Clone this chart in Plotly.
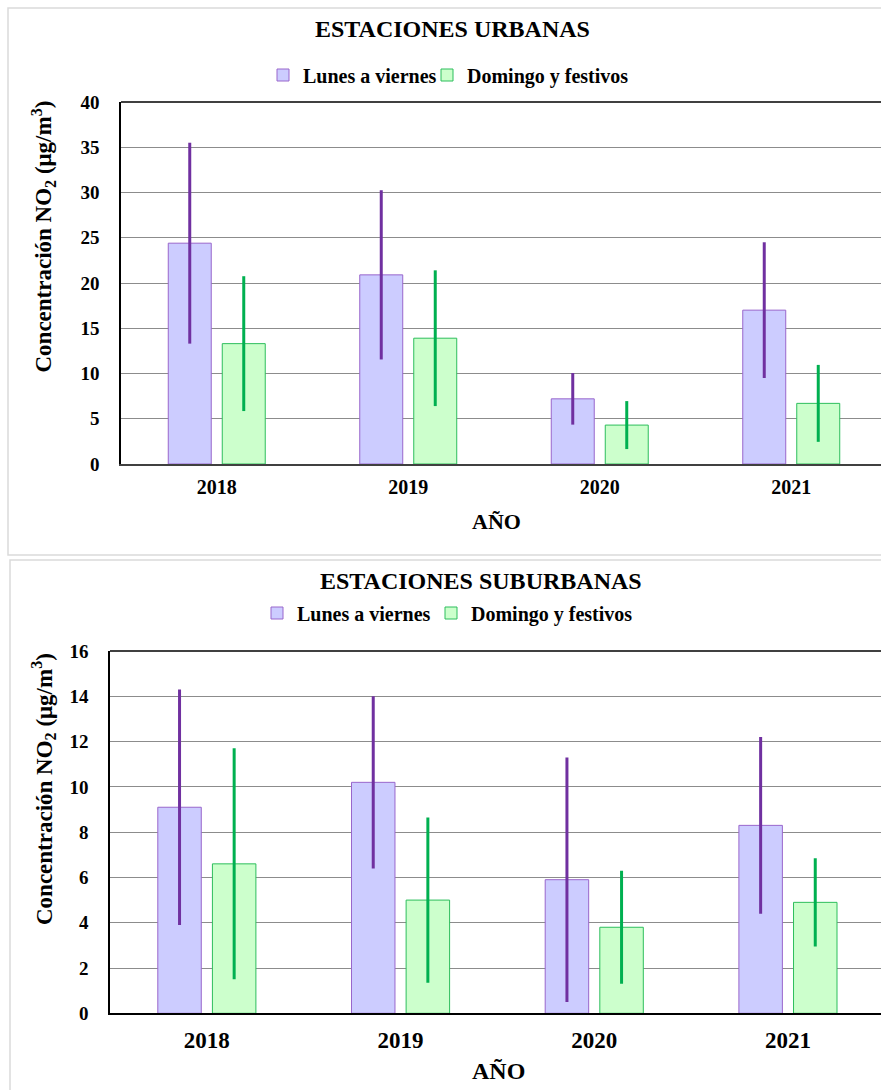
import plotly.graph_objects as go

# ---------------- data ----------------
years = ["2018", "2019", "2020", "2021"]
series_names = ["Lunes a viernes", "Domingo y festivos"]

urb_lunes = [24.4, 20.9, 7.2, 17.0]
urb_lunes_err = [11.1, 9.35, 2.85, 7.5]
urb_dom = [13.3, 13.9, 4.3, 6.7]
urb_dom_err = [7.45, 7.5, 2.65, 4.25]

sub_lunes = [9.1, 10.2, 5.9, 8.3]
sub_lunes_err = [5.2, 3.8, 5.4, 3.9]
sub_dom = [6.6, 5.0, 3.8, 4.9]
sub_dom_err = [5.1, 3.65, 2.5, 1.95]

titles = ["ESTACIONES URBANAS", "ESTACIONES SUBURBANAS"]
y_title = "Concentración NO<sub>2</sub> (μg/m<sup>3</sup>)"
x_title = "AÑO"

# ---------------- style ----------------
W, H = 881, 1090
FONT = "Liberation Serif, Times New Roman, DejaVu Serif, serif"
FILL = ["#CCCCFF", "#CCFFCC"]
EDGE = ["#9966CC", "#2DBE5C"]
ERRC = ["#7030A0", "#00B050"]


def px(x):
    return x / W


def py(y):
    return 1 - y / H


fig = go.Figure()

groups = [
    ("x", "y", ["legend", "legend2"], [urb_lunes, urb_dom], [urb_lunes_err, urb_dom_err]),
    ("x2", "y2", ["legend3", "legend4"], [sub_lunes, sub_dom], [sub_lunes_err, sub_dom_err]),
]
for xa, ya, lgs, vals, errs in groups:
    for i in range(2):
        fig.add_trace(go.Bar(
            x=years, y=vals[i], name=series_names[i],
            xaxis=xa, yaxis=ya, legend=lgs[i], showlegend=True,
            marker=dict(color=FILL[i], line=dict(color=EDGE[i], width=1)),
            error_y=dict(type="data", array=errs[i], visible=True,
                         color=ERRC[i], thickness=3, width=0),
        ))

tick_font = dict(family=FONT, size=19, color="black", weight="bold")
leg_font = dict(family=FONT, size=20, color="black", weight="bold")


def leg(left, ycenter):
    return dict(orientation="h", x=px(left), xanchor="left", visible=True,
                y=py(ycenter), yanchor="middle", itemwidth=30,
                bgcolor="rgba(0,0,0,0)", font=leg_font)


fig.update_layout(
    template="none",
    showlegend=True,
    width=W, height=H, autosize=False,
    margin=dict(l=0, r=0, t=0, b=0, pad=0, autoexpand=False),
    paper_bgcolor="white", plot_bgcolor="white",
    barmode="group", bargap=0.436, bargroupgap=0.204,
    font=dict(family=FONT, color="black"),
    xaxis=dict(domain=[px(121), 1], type="category",
               range=[-0.5, -0.5 + 760 / 191.5],
               showline=True, linecolor="#404040", linewidth=2, mirror=False,
               showgrid=False, ticks="", ticklabelstandoff=4, automargin=False,
               tickfont=dict(family=FONT, size=20, color="black", weight="bold"),
               anchor="y", fixedrange=True),
    yaxis=dict(domain=[py(464), py(102)], range=[0, 40], dtick=5,
               showline=True, linecolor="black", linewidth=1.5,
               showgrid=True, gridcolor="#8C8C8C", gridwidth=1, automargin=False,
               ticks="", ticklabelstandoff=16, tickfont=tick_font,
               zeroline=False, anchor="x"),
    xaxis2=dict(domain=[px(110), 1], type="category",
                range=[-0.5, -0.5 + 771 / 193.7],
                showline=True, linecolor="black", linewidth=2, mirror=False,
                showgrid=False, ticks="", ticklabelstandoff=5, automargin=False,
                tickfont=dict(family=FONT, size=23, color="black", weight="bold"),
                anchor="y2"),
    yaxis2=dict(domain=[py(1013.3), py(651)], range=[0, 16], dtick=2,
                showline=True, linecolor="black", linewidth=1.5,
                showgrid=True, gridcolor="#8C8C8C", gridwidth=1, automargin=False,
                ticks="", ticklabelstandoff=16, tickfont=tick_font,
                zeroline=False, anchor="x2"),
    legend=leg(263, 75),
    legend2=leg(427, 75),
    legend3=leg(257, 613),
    legend4=leg(431, 613),
)

# top border lines of plot areas (plot frame)
fig.add_shape(type="line", xref="paper", yref="paper",
              x0=px(121), x1=1, y0=py(102), y1=py(102),
              line=dict(color="black", width=1.5))
fig.add_shape(type="line", xref="paper", yref="paper",
              x0=px(110), x1=1, y0=py(651), y1=py(651),
              line=dict(color="black", width=1.5))

# chart boxes
fig.add_shape(type="rect", xref="paper", yref="paper", layer="below",
              x0=px(8), x1=1.02, y0=py(555), y1=py(8),
              line=dict(color="#DADADA", width=1.5))
fig.add_shape(type="rect", xref="paper", yref="paper", layer="below",
              x0=px(10), x1=1.02, y0=-0.02, y1=py(560),
              line=dict(color="#DADADA", width=1.5))

ann = [
    dict(text=titles[0], x=px(452.5), y=py(29), size=24),
    dict(text=titles[1], x=px(480.5), y=py(580.5), size=24),
    dict(text=x_title, x=px(496), y=py(521), size=22),
    dict(text=x_title, x=px(498.5), y=py(1071), size=24),
]
for a in ann:
    fig.add_annotation(text=a["text"], x=a["x"], y=a["y"], xref="paper", yref="paper",
                       xanchor="center", yanchor="middle", showarrow=False,
                       font=dict(family=FONT, size=a["size"], color="black", weight="bold"))
for yy in (236.5, 789):
    fig.add_annotation(text=y_title, x=px(43), y=py(yy), xref="paper", yref="paper",
                       xanchor="center", yanchor="middle", showarrow=False, textangle=-90,
                       font=dict(family=FONT, size=23, color="black", weight="bold"))

fig.write_html(
    "out.html",
    config={"displayModeBar": False},
    post_script="document.body.style.margin='0';document.body.style.overflow='hidden';",
)
